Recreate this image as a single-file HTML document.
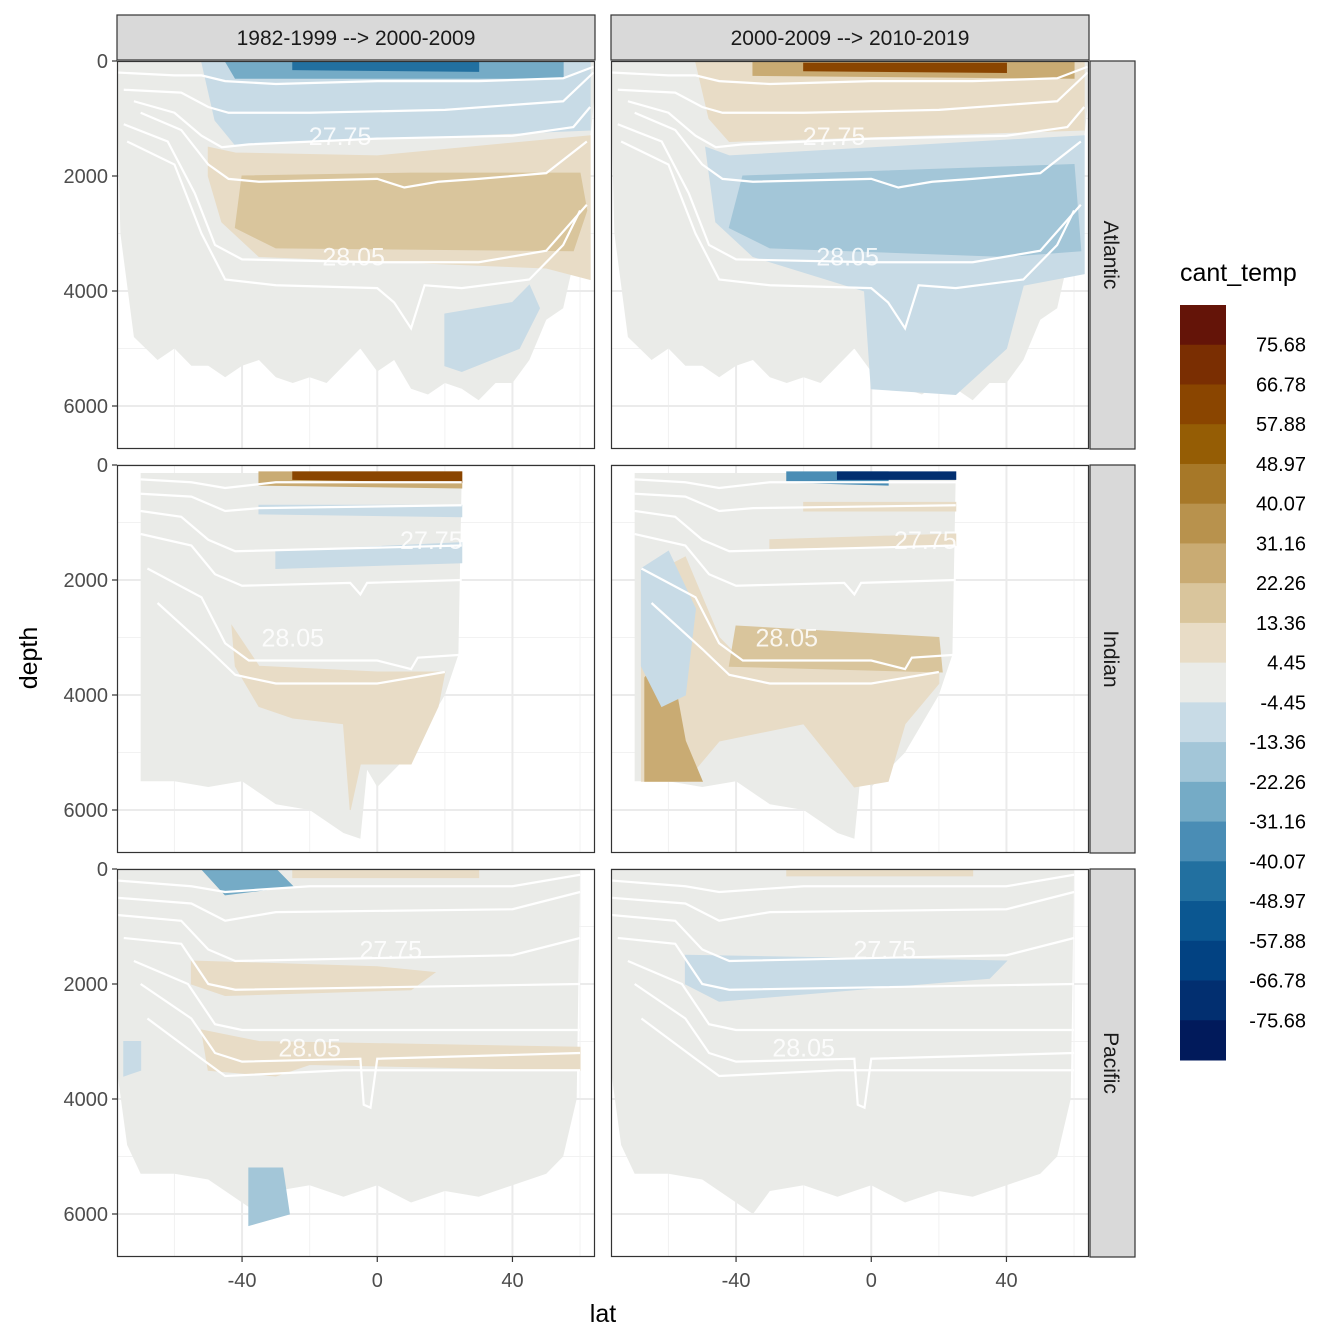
<!DOCTYPE html>
<html><head><meta charset="utf-8">
<style>
body{margin:0;background:#fff;}
svg{display:block;font-family:"Liberation Sans",sans-serif;}
</style></head>
<body>
<svg id="chart" width="1344" height="1344" viewBox="0 0 1344 1344"></svg>
<script>
const colors = ["#641408","#7a2e02","#8a4500","#955d05","#a77828","#b8924d","#c9ab73","#d9c59c","#e8dcc6","#eaebe8","#c8dbe6","#a3c6d8","#75abc6","#4a8db5","#2270a0","#0b5791","#024282","#022f70","#011a5b"];
const legendLabels = ["75.68","66.78","57.88","48.97","40.07","31.16","22.26","13.36","4.45","-4.45","-13.36","-22.26","-31.16","-40.07","-48.97","-57.88","-66.78","-75.68"];
const colTitles = ["1982-1999 --> 2000-2009","2000-2009 --> 2010-2019"];
const basins = ["Atlantic","Indian","Pacific"];
const xTicks = [-40,0,40];
const yTicks = [0,2000,4000,6000];

const bathyAtlantic = [[-77,700],[-76,3000],[-72,4800],[-65,5200],[-60,5000],[-55,5300],[-50,5300],[-45,5500],[-40,5300],[-35,5200],[-30,5500],[-25,5600],[-20,5500],[-15,5600],[-10,5300],[-5,5000],[0,5400],[5,5200],[10,5700],[15,5800],[20,5600],[25,5700],[30,5900],[35,5600],[40,5600],[45,5200],[50,4500],[55,4300],[60,3000],[64.5,500]];
const bathyIndian = [[-70,5500],[-60,5500],[-50,5600],[-40,5500],[-30,5900],[-20,6000],[-10,6400],[-5,6500],[-3,5300],[0,5600],[10,5000],[20,4000],[24,3300],[25,150]];
const bathyPacific = [[-77,3500],[-74,4800],[-70,5300],[-60,5300],[-50,5400],[-40,5800],[-35,6000],[-30,5600],[-20,5500],[-10,5700],[0,5500],[10,5800],[20,5600],[30,5700],[40,5500],[50,5300],[55,5000],[59,4000],[60,0]];
const oceanTop = [0,140,0];

// blobs: [bin index, polygon [lat,depth]...]
const blobsAtlL = [
 [10,[[-52,0],[-48,1030],[-42,1460],[63,1200],[63,0]]],
 [12,[[-45,0],[55,0],[55,300],[-42,300]]],
 [14,[[-25,20],[30,20],[30,180],[-25,150]]],
 [8,[[-50,1500],[-42,1600],[0,1650],[63,1300],[63,3800],[50,3600],[-35,3400],[-46,2800],[-50,2000]]],
 [7,[[-40,2000],[10,1950],[60,1950],[62,2600],[58,3300],[-30,3250],[-42,2900]]],
 [10,[[20,4400],[40,4200],[45,3900],[48,4300],[42,5000],[25,5400],[20,5300]]]
];
const blobsAtlR = [
 [8,[[-52,0],[63,0],[63,1200],[-42,1400],[-48,1000]]],
 [6,[[-35,0],[60,0],[60,300],[-35,250]]],
 [2,[[-20,40],[40,40],[40,200],[-20,170]]],
 [10,[[-49,1500],[-42,1650],[63,1300],[63,3700],[45,3900],[40,5000],[25,5800],[0,5700],[-2,4000],[-35,3400],[-46,2800]]],
 [11,[[-38,2000],[60,1800],[62,3300],[40,3400],[-30,3250],[-42,2900]]]
];
const blobsIndL = [
 [6,[[-35,120],[25,120],[25,400],[-35,350]]],
 [2,[[-25,120],[25,120],[25,300],[-25,250]]],
 [10,[[-35,700],[25,700],[25,900],[-35,850]]],
 [10,[[-30,1500],[25,1350],[25,1700],[-30,1800]]],
 [8,[[-43,2800],[-35,3500],[0,3600],[20,3600],[18,4200],[10,5200],[-5,5200],[-8,6000],[-10,4500],[-25,4400],[-35,4200],[-42,3500]]]
];
const blobsIndR = [
 [13,[[-25,120],[5,120],[5,350],[-25,300]]],
 [17,[[-10,120],[25,120],[25,250],[-10,250]]],
 [8,[[-20,650],[25,650],[25,800],[-20,800]]],
 [8,[[-30,1300],[25,1200],[25,1400],[-30,1450]]],
 [8,[[-68,2000],[-55,1600],[-45,3000],[-40,3300],[20,3300],[20,3800],[10,4500],[5,5500],[-5,5600],[-20,4500],[-45,4800],[-55,5500],[-68,5500]]],
 [7,[[-40,2800],[20,3000],[21,3600],[-42,3500]]],
 [6,[[-67,3700],[-60,3200],[-55,4800],[-50,5500],[-67,5500]]],
 [10,[[-68,1800],[-60,1500],[-52,2500],[-55,4000],[-62,4200],[-68,3500]]]
];
const blobsPacL = [
 [12,[[-52,0],[-30,0],[-25,300],[-45,450]]],
 [8,[[-25,0],[30,0],[30,150],[-25,150]]],
 [8,[[-55,1600],[0,1700],[17,1800],[10,2100],[-45,2200],[-55,2000]]],
 [8,[[-52,2800],[-35,3000],[60,3100],[60,3500],[-20,3400],[-30,3600],[-50,3500]]],
 [11,[[-38,5200],[-28,5200],[-26,6000],[-38,6200]]],
 [10,[[-75,3000],[-70,3000],[-70,3500],[-75,3600]]]
];
const blobsPacR = [
 [8,[[-25,0],[30,0],[30,120],[-25,120]]],
 [10,[[-55,1500],[40,1600],[35,1900],[-45,2300],[-55,2000]]]
];

const linesAtl = [
 [[-77,200],[-60,250],[-52,250],[-45,350],[-30,400],[0,350],[30,350],[55,300],[64,100]],
 [[-75,500],[-58,550],[-50,800],[-44,900],[-20,900],[20,850],[55,700],[64,200]],
 [[-72,700],[-60,900],[-52,1300],[-46,1500],[-38,1450],[0,1350],[40,1300],[58,1150],[63,800]],
 [[-70,900],[-58,1200],[-50,1800],[-44,2050],[-35,2100],[0,2050],[8,2200],[18,2100],[30,2050],[50,1950],[62,1400]],
 [[-75,1100],[-62,1400],[-54,2300],[-48,3200],[-40,3450],[0,3500],[30,3500],[50,3300],[62,2500]],
 [[-74,1400],[-60,1800],[-52,3000],[-45,3800],[-30,3900],[0,3950],[5,4200],[10,4650],[14,3900],[25,3950],[45,3800],[55,3200],[60,2600]]
];
const linesInd = [
 [[-70,250],[-55,300],[-45,400],[-30,300],[25,300]],
 [[-70,500],[-55,550],[-45,800],[-35,750],[25,700]],
 [[-70,800],[-58,900],[-50,1300],[-42,1500],[25,1400]],
 [[-70,1200],[-55,1400],[-48,1900],[-40,2100],[-8,2050],[-5,2250],[-3,2050],[25,2000]],
 [[-68,1800],[-52,2300],[-45,3100],[-38,3400],[0,3400],[10,3550],[12,3350],[25,3300]],
 [[-65,2400],[-50,3200],[-42,3650],[-30,3800],[0,3800],[20,3600]]
];
const linesPac = [
 [[-77,200],[-55,300],[-45,400],[-20,300],[40,300],[60,100]],
 [[-77,500],[-55,600],[-45,900],[-30,750],[40,700],[60,400]],
 [[-77,800],[-58,900],[-50,1400],[-42,1600],[40,1500],[60,1200]],
 [[-75,1200],[-58,1300],[-50,2000],[-42,2100],[60,2000]],
 [[-72,1600],[-56,2000],[-48,2700],[-40,2800],[60,2800]],
 [[-70,2000],[-55,2600],[-48,3200],[-40,3350],[-5,3300],[-4,4100],[-2,4150],[0,3300],[60,3200]],
 [[-68,2600],[-52,3300],[-45,3600],[-10,3500],[60,3500]]
];
const labelPos = [[[-11,1300,"27.75"],[-7,3400,"28.05"]],[[16,1300,"27.75"],[-25,3000,"28.05"]],[[4,1400,"27.75"],[-20,3100,"28.05"]]];

const svg = document.getElementById('chart');
const NS = 'http://www.w3.org/2000/svg';
function mk(tag, attrs, parent){const e=document.createElementNS(NS,tag);for(const k in attrs)e.setAttribute(k,attrs[k]);(parent||svg).appendChild(e);return e;}
const colX = [117,611], rowY = [61,465,869], PW = 478, PH = 388;
const xs = (c,lat)=> colX[c] + (lat+77)*3.38;
const ys = (r,d)=> rowY[r] + d*0.0575;

const bathy = [bathyAtlantic, bathyIndian, bathyPacific];
const blobs = [[blobsAtlL,blobsAtlR],[blobsIndL,blobsIndR],[blobsPacL,blobsPacR]];
const lines = [linesAtl, linesInd, linesPac];

for(let r=0;r<3;r++){
 for(let c=0;c<2;c++){
  const g = mk('g',{});
  
  
  const cid='clip'+r+c;
  const cp=mk('clipPath',{id:cid},g); mk('rect',{x:colX[c],y:rowY[r],width:PW,height:PH},cp);
  mk('rect',{x:colX[c],y:rowY[r],width:PW,height:PH,fill:'#fff'},g);
  [-60,-20,20,60].forEach(v=>mk('line',{x1:xs(c,v),x2:xs(c,v),y1:rowY[r],y2:rowY[r]+PH,stroke:'#f2f2f2','stroke-width':1},g));
  [1000,3000,5000].forEach(v=>mk('line',{x1:colX[c],x2:colX[c]+PW,y1:ys(r,v),y2:ys(r,v),stroke:'#f2f2f2','stroke-width':1},g));
  xTicks.forEach(v=>mk('line',{x1:xs(c,v),x2:xs(c,v),y1:rowY[r],y2:rowY[r]+PH,stroke:'#ebebeb','stroke-width':2},g));
  yTicks.forEach(v=>mk('line',{x1:colX[c],x2:colX[c]+PW,y1:ys(r,v),y2:ys(r,v),stroke:'#ebebeb','stroke-width':2},g));
  const inner=mk('g',{'clip-path':'url(#'+cid+')'},g);
  const b=bathy[r];
  let pts=b.map(p=>xs(c,p[0])+','+ys(r,p[1]));
  pts.push(xs(c,b[b.length-1][0])+','+ys(r,oceanTop[r]));
  pts.push(xs(c,b[0][0])+','+ys(r,oceanTop[r]));
  const ocean=mk('polygon',{points:pts.join(' '),fill:colors[9]},inner);
  
  
  blobs[r][c].forEach(bl=>{
   const p=mk('polygon',{points:bl[1].map(q=>xs(c,q[0])+','+ys(r,q[1])).join(' '),fill:colors[bl[0]],'stroke':colors[bl[0]],'stroke-width':1},inner);
   
   
  });
  lines[r].forEach(l=>{
   const p=mk('polyline',{points:l.map(q=>xs(c,q[0])+','+ys(r,q[1])).join(' '),fill:'none',stroke:'#fff','stroke-width':2.2},inner);
   
   
  });
  labelPos[r].forEach(lp=>{
   const t=mk('text',{x:xs(c,lp[0]),y:ys(r,lp[1])+9,'font-size':25,fill:'#fff','fill-opacity':0.85,'text-anchor':'middle'},inner);
   t.textContent=lp[2];
   
   
  });
  mk('rect',{x:colX[c]+0.5,y:rowY[r]+0.5,width:PW-1,height:PH-1,fill:'none',stroke:'#333','stroke-width':1.2},g);
  if(c===0){
   yTicks.forEach(v=>{
    mk('line',{x1:colX[c]-5,x2:colX[c],y1:ys(r,v),y2:ys(r,v),stroke:'#333','stroke-width':1.2},g);
    const t=mk('text',{x:colX[c]-9,y:ys(r,v)+7,'font-size':20,fill:'#4d4d4d','text-anchor':'end'},g);
    t.textContent=v;
    
    
   });
  }
  if(r===2){
   xTicks.forEach(v=>{
    mk('line',{x1:xs(c,v),x2:xs(c,v),y1:rowY[r]+PH,y2:rowY[r]+PH+5,stroke:'#333','stroke-width':1.2},g);
    const t=mk('text',{x:xs(c,v),y:rowY[r]+PH+30,'font-size':20,fill:'#4d4d4d','text-anchor':'middle'},g);
    t.textContent=v;
    
    
   });
  }
 }
 const sg=mk('g',{});
 
 
 mk('rect',{x:1090,y:rowY[r],width:45,height:PH,fill:'#d9d9d9',stroke:'#333','stroke-width':1.2},sg);
 const st=mk('text',{x:1104,y:rowY[r]+PH/2,'font-size':21,fill:'#1a1a1a','text-anchor':'middle',transform:'rotate(90 1104 '+(rowY[r]+PH/2)+')'},sg);
 st.textContent=basins[r];
}
for(let c=0;c<2;c++){
 const sg=mk('g',{});
 
 
 mk('rect',{x:colX[c],y:15,width:PW,height:45,fill:'#d9d9d9',stroke:'#333','stroke-width':1.2},sg);
 const t=mk('text',{x:colX[c]+PW/2,y:45,'font-size':21,fill:'#1a1a1a','text-anchor':'middle'},sg);
 t.textContent=colTitles[c];
}
let t=mk('text',{x:603,y:1322,'font-size':25,fill:'#000','text-anchor':'middle'});
t.textContent='lat';  
t=mk('text',{x:37,y:658,'font-size':25,fill:'#000','text-anchor':'middle',transform:'rotate(-90 37 658)'});
t.textContent='depth';  

const lg=mk('g',{});


t=mk('text',{x:1180,y:281,'font-size':25,fill:'#000'},lg); t.textContent='cant_temp';
const bh=(1060-305)/colors.length;
colors.forEach((col,i)=>{
 const rr=mk('rect',{x:1180,y:305+i*bh,width:46,height:bh+0.5,fill:col},lg);
 
 
});
legendLabels.forEach((l,i)=>{
 const tx=mk('text',{x:1306,y:305+(i+1)*bh+7,'font-size':20,fill:'#000','text-anchor':'end'},lg);
 tx.textContent=l;
 
 
});
</script>
</body></html>
